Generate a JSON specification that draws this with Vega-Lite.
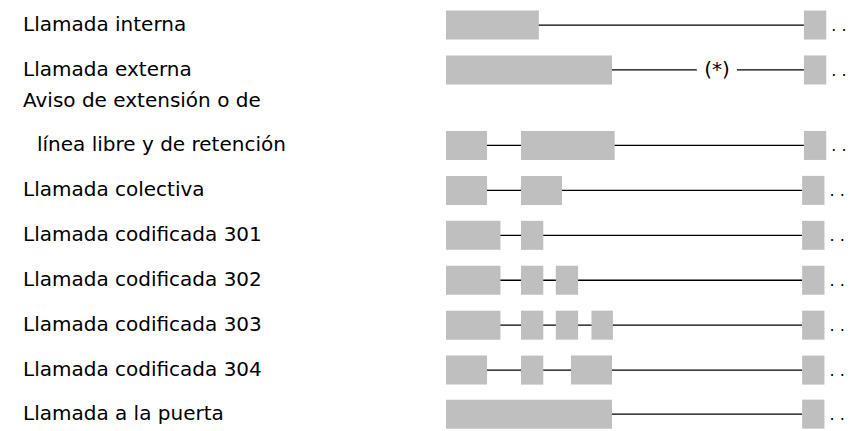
{
  "$schema": "https://vega.github.io/schema/vega-lite/v6.json",
  "width": 413,
  "height": 431,
  "autosize": {"type": "none"},
  "padding": {"left": 446, "top": 0, "right": 0, "bottom": 0},
  "background": "white",
  "config": {"view": {"stroke": null}, "font": "DejaVu Sans"},
  "datasets": {
    "bars": [
      {"slot": 0, "start": 0, "end": 1.04},
      {"slot": 0, "start": 4.01, "end": 4.26},
      {"slot": 1, "start": 0, "end": 1.86},
      {"slot": 1, "start": 4.01, "end": 4.26},
      {"slot": 2.68, "start": 0, "end": 0.46},
      {"slot": 2.68, "start": 0.84, "end": 1.89},
      {"slot": 2.68, "start": 4.01, "end": 4.26},
      {"slot": 3.68, "start": 0, "end": 0.46},
      {"slot": 3.68, "start": 0.84, "end": 1.30},
      {"slot": 3.68, "start": 3.99, "end": 4.24},
      {"slot": 4.68, "start": 0, "end": 0.61},
      {"slot": 4.68, "start": 0.84, "end": 1.09},
      {"slot": 4.68, "start": 3.99, "end": 4.24},
      {"slot": 5.68, "start": 0, "end": 0.61},
      {"slot": 5.68, "start": 0.84, "end": 1.09},
      {"slot": 5.68, "start": 1.23, "end": 1.48},
      {"slot": 5.68, "start": 3.99, "end": 4.24},
      {"slot": 6.68, "start": 0, "end": 0.61},
      {"slot": 6.68, "start": 0.84, "end": 1.09},
      {"slot": 6.68, "start": 1.23, "end": 1.48},
      {"slot": 6.68, "start": 1.63, "end": 1.87},
      {"slot": 6.68, "start": 3.99, "end": 4.24},
      {"slot": 7.68, "start": 0, "end": 0.46},
      {"slot": 7.68, "start": 0.84, "end": 1.09},
      {"slot": 7.68, "start": 1.40, "end": 1.86},
      {"slot": 7.68, "start": 3.99, "end": 4.24},
      {"slot": 8.66, "start": 0, "end": 1.86},
      {"slot": 8.66, "start": 3.99, "end": 4.24}
    ],
    "lines": [
      {"slot": 0, "start": 0, "end": 4.01},
      {"slot": 1, "start": 1.86, "end": 2.81},
      {"slot": 1, "start": 3.26, "end": 4.01},
      {"slot": 2.68, "start": 0, "end": 4.01},
      {"slot": 3.68, "start": 0, "end": 3.99},
      {"slot": 4.68, "start": 0, "end": 3.99},
      {"slot": 5.68, "start": 0, "end": 3.99},
      {"slot": 6.68, "start": 0, "end": 3.99},
      {"slot": 7.68, "start": 0, "end": 3.99},
      {"slot": 8.66, "start": 0, "end": 3.99}
    ],
    "labels": [
      {"slot": 0, "label": "Llamada interna", "cont": false},
      {"slot": 1, "label": "Llamada externa", "cont": false},
      {"slot": 1.7, "label": "Aviso de extensión o de", "cont": false},
      {"slot": 2.68, "label": "línea libre y de retención", "cont": true},
      {"slot": 3.68, "label": "Llamada colectiva", "cont": false},
      {"slot": 4.68, "label": "Llamada codificada 301", "cont": false},
      {"slot": 5.68, "label": "Llamada codificada 302", "cont": false},
      {"slot": 6.68, "label": "Llamada codificada 303", "cont": false},
      {"slot": 7.68, "label": "Llamada codificada 304", "cont": false},
      {"slot": 8.66, "label": "Llamada a la puerta", "cont": false}
    ],
    "notes": [
      {"slot": 1, "t": 3.036, "note": "(*)"}
    ]
  },
  "layer": [
    {
      "data": {"name": "lines"},
      "mark": {"type": "rule", "color": "#000000", "strokeWidth": 1.3},
      "encoding": {
        "x": {"field": "start", "type": "quantitative", "scale": {"domain": [0, 4.627], "nice": false, "zero": false}, "axis": null},
        "x2": {"field": "end"},
        "y": {"field": "slot", "type": "quantitative", "scale": {"domain": [-0.446, 8.924], "reverse": true, "nice": false, "zero": false}, "axis": null}
      }
    },
    {
      "data": {"name": "bars"},
      "mark": {"type": "bar", "color": "#bfbfbf", "height": 29},
      "encoding": {
        "x": {"field": "start", "type": "quantitative"},
        "x2": {"field": "end"},
        "y": {"field": "slot", "type": "quantitative"}
      }
    },
    {
      "data": {"name": "labels"},
      "transform": [{"filter": "!datum.cont"}],
      "mark": {"type": "text", "align": "left", "baseline": "alphabetic", "dx": -423, "dy": 6, "fontSize": 20, "color": "#000000"},
      "encoding": {
        "x": {"datum": 0, "type": "quantitative"},
        "y": {"field": "slot", "type": "quantitative"},
        "text": {"field": "label"}
      }
    },
    {
      "data": {"name": "labels"},
      "transform": [{"filter": "datum.cont"}],
      "mark": {"type": "text", "align": "left", "baseline": "alphabetic", "dx": -409, "dy": 6, "fontSize": 20, "color": "#000000"},
      "encoding": {
        "x": {"datum": 0, "type": "quantitative"},
        "y": {"field": "slot", "type": "quantitative"},
        "text": {"field": "label"}
      }
    },
    {
      "data": {"name": "notes"},
      "mark": {"type": "text", "align": "center", "baseline": "alphabetic", "dy": 6, "fontSize": 20, "color": "#000000"},
      "encoding": {
        "x": {"field": "t", "type": "quantitative"},
        "y": {"field": "slot", "type": "quantitative"},
        "text": {"field": "note"}
      }
    },
    {
      "data": {"name": "bars"},
      "transform": [{"filter": "datum.start > 3"}],
      "mark": {"type": "text", "align": "left", "baseline": "alphabetic", "dx": 5, "dy": 6, "fontSize": 16, "color": "#000000", "text": ". ."},
      "encoding": {
        "x": {"field": "end", "type": "quantitative"},
        "y": {"field": "slot", "type": "quantitative"}
      }
    }
  ]
}
